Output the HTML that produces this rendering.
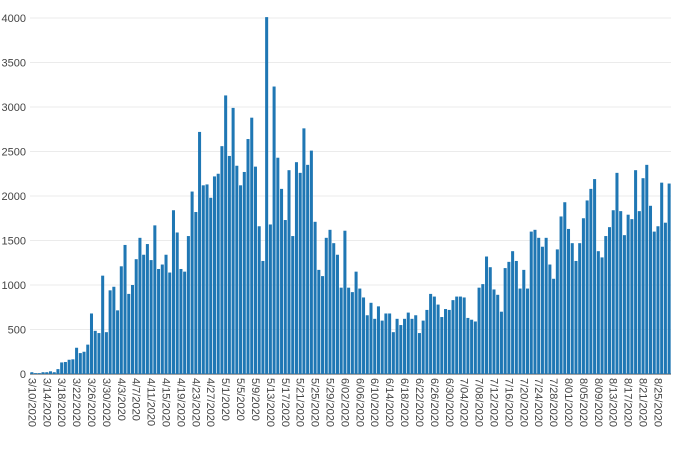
<!DOCTYPE html>
<html><head><meta charset="utf-8"><style>
body{margin:0;background:#fff;}
svg{display:block;font-family:"Liberation Sans","DejaVu Sans",sans-serif;}
</style></head><body>
<svg id="chart" width="680" height="456" viewBox="0 0 680 456"></svg>
<script>
const startDate = [2020, 3, 10];
const values = [20,10,10,20,20,30,20,55,130,135,160,165,295,235,250,330,
680,485,460,1105,470,940,980,715,1210,1450,900,1000,1290,1530,1340,1460,1280,1670,
1180,1230,1340,1140,1840,1590,1180,1150,1550,2050,1820,2720,2120,2130,1980,2220,2250,2560,
3130,2450,2990,2340,2120,2270,2640,2880,2330,1660,1270,4010,
1680,3230,2430,2080,1730,2290,1550,2380,2260,2760,
2350,2510,1710,1170,1100,1530,1620,1470,1340,970,
1610,970,920,1150,960,860,660,800,620,760,
600,680,680,470,620,550,620,690,620,660,
460,600,720,900,870,780,640,730,720,830,
870,870,860,630,610,590,970,1010,1320,1200,
950,890,700,1190,1260,1380,1270,960,1170,960,
1600,1620,1530,1430,1530,1230,1070,1400,1770,1930,
1630,1470,1270,1470,1750,1950,2080,2190,1380,1310,
1550,1650,1840,2260,1830,1560,1790,1740,2290,1830,
2200,2350,1890,1600,1660,2150,1700,2140];
const yTicks = [0,500,1000,1500,2000,2500,3000,3500,4000];
const labelEvery = 4;

const NS="http://www.w3.org/2000/svg";
const svg=document.getElementById('chart');
const X0=30, X1=671, Y0=374, Y1=18, YMAX=4000;
const band=(X1-X0)/values.length;
const y=v=>Y0-(v/YMAX)*(Y0-Y1);
const xc=i=>X0+band*(i+0.5);
function mk(t,a){const e=document.createElementNS(NS,t);for(const k in a)e.setAttribute(k,a[k]);svg.appendChild(e);return e;}

yTicks.forEach(t=>{
  const g=mk('line',{x1:X0,x2:X1,y1:y(t),y2:y(t),stroke:t===0?'#444':'#ebebeb','stroke-width':1});
  
  
  const l=mk('text',{x:26,y:y(t)+4,'text-anchor':'end','font-size':11,fill:'#444'});
  l.textContent=t;
  
  
});

values.forEach((v,i)=>{
  const r=mk('rect',{x:X0+band*i+0.35,y:y(v),width:band-0.7,height:Y0-y(v),fill:'#1f77b4'});
  
  
});

const d0=new Date(startDate[0],startDate[1]-1,startDate[2]);
for(let i=0;i<values.length;i+=labelEvery){
  const d=new Date(d0.getTime()+i*86400000);
  const m=d.getMonth()+1, dd=d.getDate();
  const ds=(m>=6&&dd<10)?'0'+dd:''+dd;
  const txt=m+'/'+ds+'/'+d.getFullYear();
  const x=xc(i);
  const t=mk('text',{x:0,y:0,transform:`translate(${x-3.5},378) rotate(90)`,'font-size':11,fill:'#444'});
  t.textContent=txt;
  
  
}
</script>
</body></html>
